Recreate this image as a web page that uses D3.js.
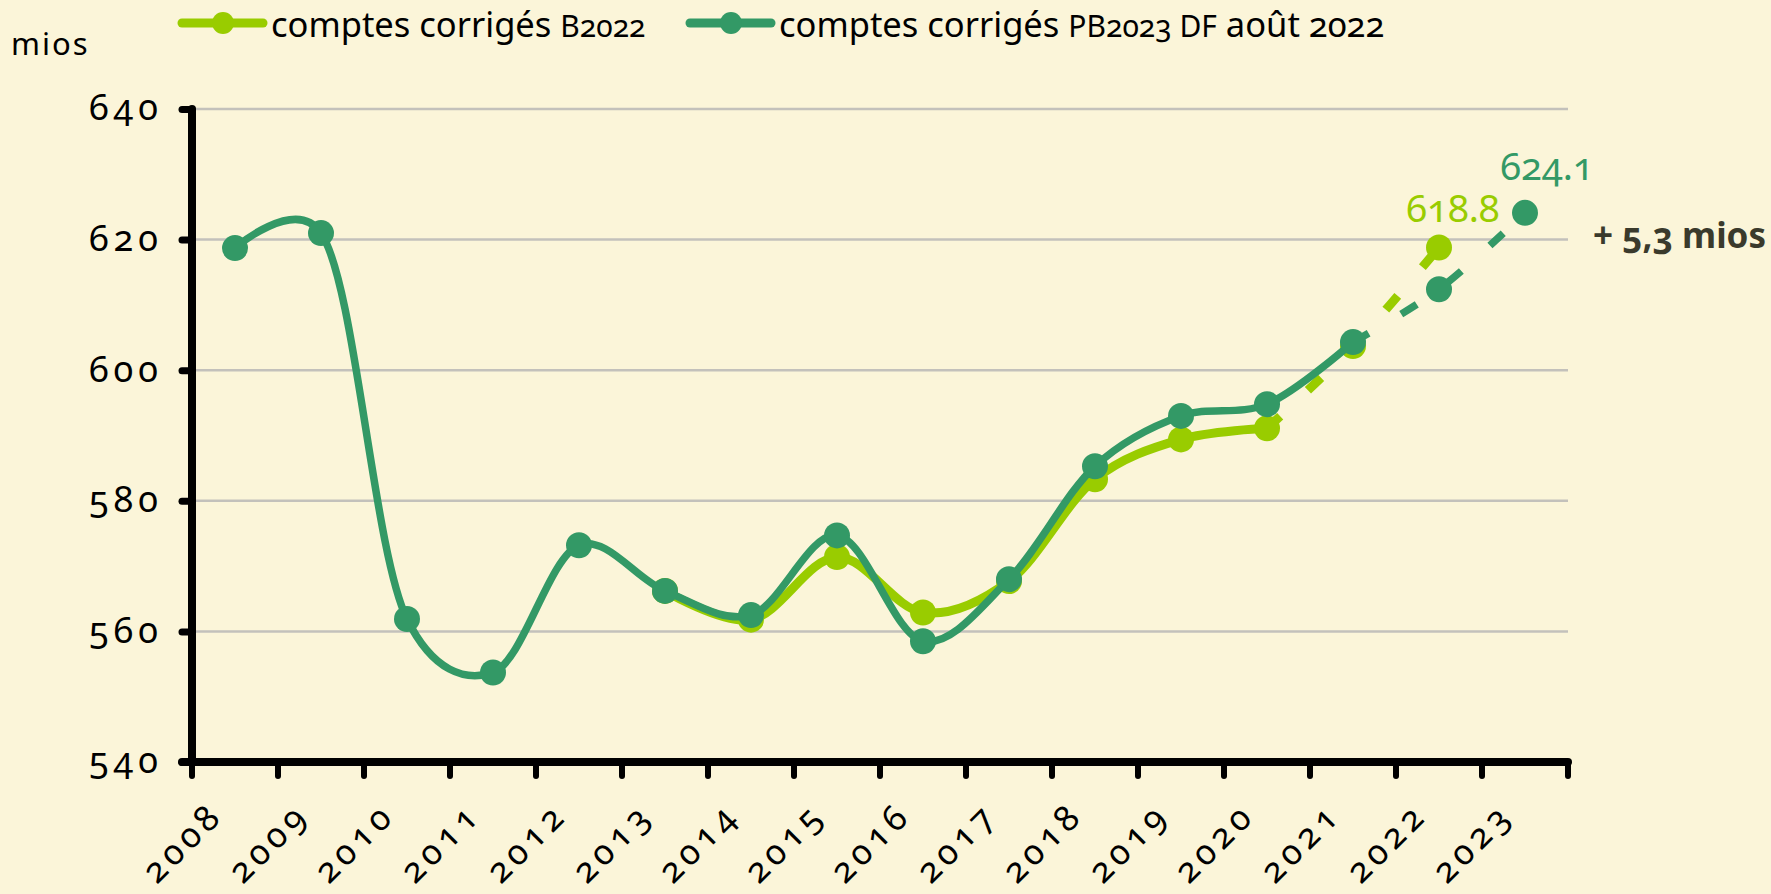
<!DOCTYPE html>
<html>
<head>
<meta charset="utf-8">
<script src="https://cdn.jsdelivr.net/npm/d3@7"></script>
<style>
body { margin: 0; background: #FBF5D9; }
svg { display: block; font-family: "Noto Sans", sans-serif; font-feature-settings: "onum"; }
</style>
</head>
<body>
<svg id="graph"></svg>
<script>
// data (mios)
var years = ["2008","2009","2010","2011","2012","2013","2014","2015","2016","2017","2018","2019","2020","2021","2022","2023"];
var b2022 = [null,null,null,null,null,566.2,561.8,571.4,562.9,567.7,583.3,589.4,591.1,603.7,618.8,null];
var pb2023 = [618.7,621.0,561.9,553.7,573.2,566.2,562.5,574.7,558.5,568.0,585.3,593.0,594.8,604.3,612.4,624.1];
var yTicks = [540,560,580,600,620,640];

var lightGreen = "#99CC00", darkGreen = "#339966";

var svg = d3.select("#graph")
    .attr("width", 1771)
    .attr("height", 894);

var x = d3.scaleBand().domain(years).range([192, 1568]),
    y = d3.scaleLinear().domain([540, 640]).range([762, 109]);

function cx(d) { return x(d.year) + x.bandwidth() / 2; }
function cy(d) { return y(d.value); }

// gridlines
svg.append("g").selectAll("line")
  .data(yTicks.slice(1))
  .enter().append("line")
    .attr("x1", x.range()[0]).attr("x2", x.range()[1])
    .attr("y1", function(d) { return y(d); })
    .attr("y2", function(d) { return y(d); })
    .attr("stroke", "#c3c1bb")
    .attr("stroke-width", 2.5);

// y axis
var yaxis = svg.append("g")
    .attr("transform", "translate(" + x.range()[0] + ",0)")
    .call(d3.axisLeft(y).tickValues(yTicks).tickSize(10).tickPadding(19));
yaxis.select(".domain").remove();
yaxis.selectAll(".tick line")
    .attr("stroke", "#000").attr("stroke-width", 7).attr("stroke-linecap", "round");
yaxis.selectAll(".tick text")
    .attr("fill", "#000")
    .attr("font-size", 36)
    .attr("letter-spacing", 5)
    .attr("dy", "0.3em")
    .style("font-family", "'Noto Sans', sans-serif");
yaxis.append("line")
    .attr("y1", y(540)).attr("y2", y(640))
    .attr("stroke", "#000").attr("stroke-width", 8).attr("stroke-linecap", "round");

// x axis
var xaxis = svg.append("g");
xaxis.selectAll(".xtick")
  .data(years.concat(["end"]))
  .enter().append("line")
    .attr("class", "xtick")
    .attr("x1", function(d) { return d == "end" ? x.range()[1] : x(d); })
    .attr("x2", function(d) { return d == "end" ? x.range()[1] : x(d); })
    .attr("y1", y(540)).attr("y2", y(540) + 14)
    .attr("stroke", "#000").attr("stroke-width", 6).attr("stroke-linecap", "round");
xaxis.append("line")
    .attr("x1", x.range()[0] - 10).attr("x2", x.range()[1])
    .attr("y1", y(540)).attr("y2", y(540))
    .attr("stroke", "#000").attr("stroke-width", 8).attr("stroke-linecap", "round");
xaxis.selectAll(".xlabel")
  .data(years)
  .enter().append("text")
    .attr("class", "xlabel")
    .attr("text-anchor", "end")
    .attr("font-size", 35)
    .attr("letter-spacing", 5)
    .attr("transform", function(d) {
        return "translate(" + (x(d) + x.bandwidth() / 2 - 10) + ",817) rotate(-45)";
    })
    .text(function(d) { return d; });

// series
function toPoints(vals) {
    return years.map(function(yr, i) { return {year: yr, value: vals[i]}; })
        .filter(function(d) { return d.value != null; });
}
var line = d3.line().x(cx).y(cy).curve(d3.curveCatmullRom.alpha(0.2));

function drawSeries(vals, breakYear, color, width) {
    var pts = toPoints(vals);
    var k = pts.findIndex(function(d) { return d.year == breakYear; });
    var g = svg.append("g");
    g.append("path")
        .datum(pts.slice(0, k + 1))
        .attr("d", line)
        .attr("fill", "none").attr("stroke", color)
        .attr("stroke-width", width).attr("stroke-linejoin", "round");
    g.append("path")
        .datum(pts.slice(k))
        .attr("d", line)
        .attr("fill", "none").attr("stroke", color)
        .attr("stroke-width", width).attr("stroke-dasharray", "18,38");
    g.selectAll("circle")
      .data(pts)
      .enter().append("circle")
        .attr("cx", cx).attr("cy", cy).attr("r", 13)
        .attr("fill", color);
}
drawSeries(b2022, "2020", lightGreen, 9);
drawSeries(pb2023, "2021", darkGreen, 7.5);

// value labels
svg.append("text")
    .attr("x", x("2022") + x.bandwidth() / 2 + 14)
    .attr("y", y(b2022[14]) - 25)
    .attr("text-anchor", "middle")
    .attr("font-size", 38)
    .attr("fill", lightGreen)
    .text("618.8");
svg.append("text")
    .attr("x", x("2023") + x.bandwidth() / 2 + 22)
    .attr("y", y(pb2023[15]) - 33)
    .attr("text-anchor", "middle")
    .attr("font-size", 38)
    .attr("fill", darkGreen)
    .text("624.1");
svg.append("text")
    .attr("x", x.range()[1] + 25)
    .attr("y", 248)
    .attr("font-size", 35)
    .attr("font-weight", "bold")
    .attr("fill", "#3a3a2c")
    .text("+ 5,3 mios");

// unit
svg.append("text")
    .attr("x", 11).attr("y", 55)
    .attr("font-size", 31)
    .attr("letter-spacing", 2)
    .text("mios");

// legend
var legend = [
    {color: lightGreen, x: 182, main: "comptes corrigés ", sc: "B2022", tail: ""},
    {color: darkGreen, x: 690, main: "comptes corrigés ", sc: "PB2023 DF", tail: " août 2022"}
];
var lg = svg.selectAll(".legend")
  .data(legend)
  .enter().append("g")
    .attr("class", "legend")
    .attr("transform", function(d) { return "translate(" + d.x + ",23)"; });
lg.append("line")
    .attr("x1", 0).attr("x2", 81)
    .attr("stroke", function(d) { return d.color; })
    .attr("stroke-width", 9).attr("stroke-linecap", "round");
lg.append("circle")
    .attr("cx", 41).attr("r", 11)
    .attr("fill", function(d) { return d.color; });
var lt = lg.append("text")
    .attr("x", 89).attr("y", 14)
    .attr("font-size", 34.5);
lt.append("tspan").text(function(d) { return d.main; });
lt.append("tspan").attr("font-size", 30).text(function(d) { return d.sc; });
lt.append("tspan").text(function(d) { return d.tail; });
</script>
</body>
</html>
